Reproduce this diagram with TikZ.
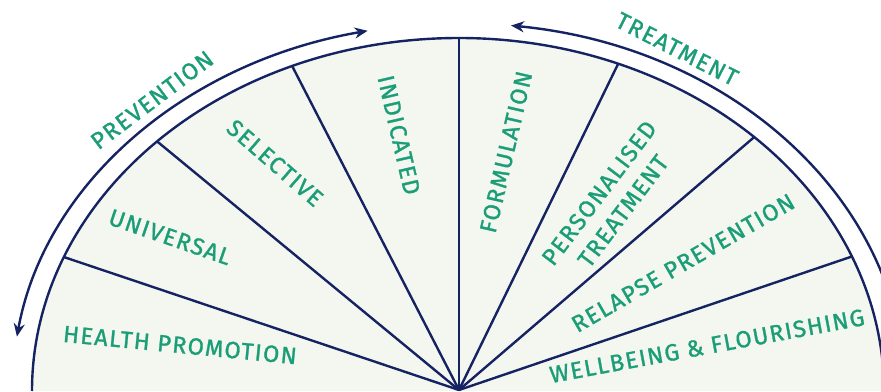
\documentclass[tikz,border=0pt]{standalone}
\usepackage{fontspec}
\setmainfont{Fira Sans}[FakeBold=1.2,LetterSpace=6]
\usetikzlibrary{arrows.meta,calc}
\definecolor{navy}{RGB}{22,35,99}
\definecolor{leaf}{RGB}{27,158,119}
\definecolor{fanfill}{RGB}{244,247,240}
\begin{document}
\begin{tikzpicture}[x=1pt,y=1pt,
  rim/.style={draw=navy,line width=2.4pt},
  spoke/.style={draw=navy,line width=2.4pt},
  sweep/.style={draw=navy,line width=2.4pt},
  lab/.style={text=leaf,font=\fontsize{23.5}{27}\selectfont,inner sep=0pt,align=center}]
% page
\fill[white] (0,0) rectangle (881,391);
\useasboundingbox (0,0) rectangle (881,391);
\clip (0,0) rectangle (881,391);

% fan centre and rim end points
\coordinate (c) at (459,0);
\coordinate (hub) at (459,1);
\coordinate (rimL) at ($(c)+(-427pt,0)$);

% filled fan with its rim
\fill[fanfill] (rimL) arc[start angle=180,end angle=90,x radius=427pt,y radius=353pt]
  arc[start angle=90,end angle=0,x radius=425pt,y radius=353pt] -- cycle;
\draw[rim] (rimL) arc[start angle=180,end angle=90,x radius=427pt,y radius=353pt]
  arc[start angle=90,end angle=-2,x radius=425pt,y radius=353pt];

% spoke ends on the rim
\coordinate (s1) at ($(c)+(157.7:427pt and 353pt)$);
\coordinate (s2) at ($(c)+(135:427pt and 353pt)$);
\coordinate (s3) at ($(c)+(113:427pt and 353pt)$);
\coordinate (s4) at ($(c)+(90:427pt and 353pt)$);
\coordinate (s5) at ($(c)+(68:425pt and 353pt)$);
\coordinate (s6) at ($(c)+(46:425pt and 353pt)$);
\coordinate (s7) at ($(c)+(22.4:425pt and 353pt)$);
\foreach \s in {s1,s2,s3,s4,s5,s6,s7}
  \draw[spoke] (hub) -- (\s);

% outer sweep arrows
\coordinate (pA) at ($(c)+(171.5:447pt and 368pt)$);
\coordinate (tA) at ($(c)+(83.3:446pt and 368pt)$);
\draw[sweep,{Stealth[length=13pt,width=11pt]}-{Stealth[length=13pt,width=11pt]}]
  (pA) arc[start angle=171.5,end angle=101.8,x radius=447pt,y radius=368pt];
\draw[sweep,{Stealth[length=13pt,width=11pt]}-]
  (tA) arc[start angle=83.3,end angle=-5,x radius=446pt,y radius=368pt];

% labels
\node[lab,rotate=37]   (prev)  at (152,291) {PREVENTION};
\node[lab,rotate=-27]  (treat) at (677,342) {TREATMENT};
\node[lab,rotate=-5.5] (hp)    at (180,46)  {HEALTH PROMOTION};
\node[lab,rotate=-19]  (uni)   at (170,154) {UNIVERSAL};
\node[lab,rotate=-41]  (sel)   at (275,228) {SELECTIVE};
\node[lab,rotate=-77]  (ind)   at (399,256) {INDICATED};
\node[lab,rotate=77]   (form)  at (506,239) {FORMULATION};
\node[lab,rotate=53,font=\fontsize{23.5}{30}\selectfont] (pers) at (611,189) {PERSONALISED\\TREATMENT};
\node[lab,rotate=30]   (rel)   at (683,128) {RELAPSE PREVENTION};
\node[lab,rotate=10.5] (well)  at (707,45)  {WELLBEING \& FLOURISHING};
\end{tikzpicture}
\end{document}
